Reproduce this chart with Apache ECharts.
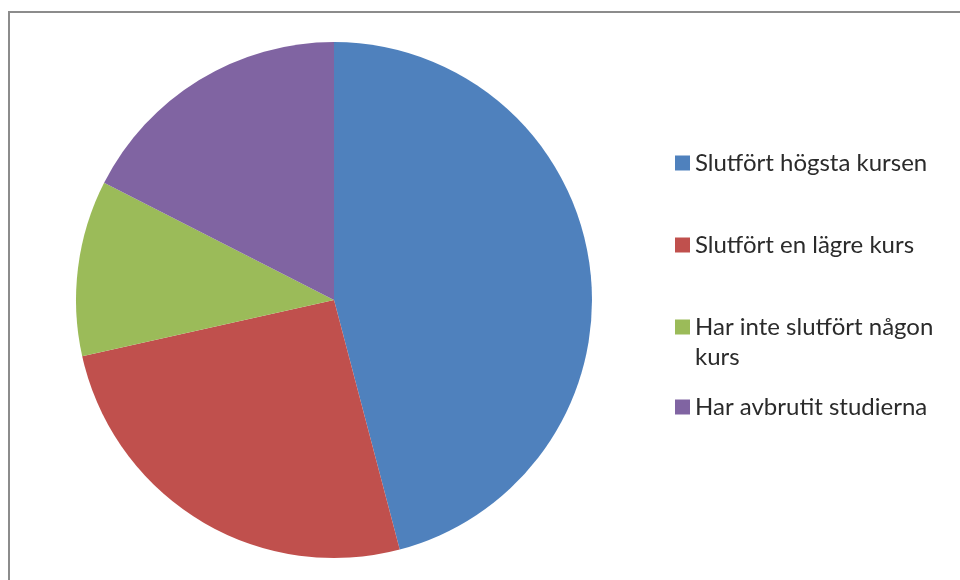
<!DOCTYPE html>
<html><head><meta charset="utf-8">
<script src="https://cdn.jsdelivr.net/npm/echarts@6/dist/echarts.min.js"></script>
<style>html,body{margin:0;padding:0;background:#fff}#c{width:960px;height:580px}</style>
</head><body><div id="c"></div>
<script>
const categories = ['Slutfört högsta kursen', 'Slutfört en lägre kurs', 'Har inte slutfört någon kurs', 'Har avbrutit studierna'];
const values = [45.9, 25.6, 11.0, 17.5];
const colors = ['#4F81BD', '#C0504D', '#9BBB59', '#8064A2'];

const chart = echarts.init(document.getElementById('c'), null, {renderer: 'canvas'});
const font = 'Lato';
const legendTops = [163, 245, 327, 407];
const legends = categories.map((name, i) => {
  const wrap = i === 2;
  return {
    orient: 'vertical',
    left: 675,
    top: legendTops[i] - (wrap ? 45 : 15),
    padding: 0,
    itemWidth: 15,
    itemHeight: 15,
    itemGap: 0,
    icon: 'rect',
    selectedMode: false,
    data: [name],
    formatter: n => n === 'Har inte slutfört någon kurs' ? '\nHar inte slutfört någon\nkurs' : n,
    textStyle: {
      fontFamily: font, fontSize: 24, color: '#2b2b2b', lineHeight: 30
    }
  };
});

chart.setOption({
  animation: false,
  color: colors,
  legend: legends,
  graphic: [{
    type: 'rect', silent: true, z: -1,
    shape: {x: 9, y: 12, width: 980, height: 600},
    style: {fill: 'none', stroke: '#8c8c8c', lineWidth: 2}
  }],
  series: [{
    type: 'pie',
    center: [334, 300],
    radius: [0, 258],
    startAngle: 90,
    clockwise: true,
    label: {show: false},
    labelLine: {show: false},
    emphasis: {disabled: true},
    itemStyle: {borderWidth: 0},
    data: categories.map((n, i) => ({name: n, value: values[i]}))
  }]
});
</script></body></html>
